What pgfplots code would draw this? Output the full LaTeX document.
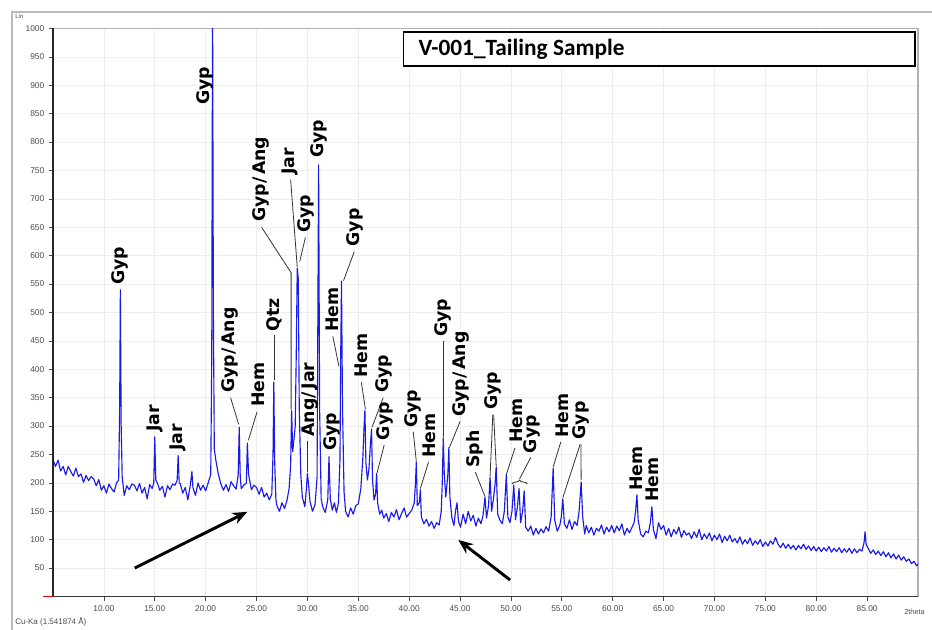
\documentclass[border=0pt]{standalone}
\usepackage{pgfplots}
\pgfplotsset{compat=1.18}
\usepackage{fontspec}
\setmainfont{Liberation Sans}
\newfontfamily\carlito{Carlito}
\newfontfamily\dejavu{DejaVu Sans}
\usetikzlibrary{arrows.meta,decorations.pathreplacing}
\definecolor{xrdblue}{RGB}{25,25,235}
\begin{document}
\begin{tikzpicture}[x=1pt,y=1pt,
  lbl/.style={rotate=90, anchor=west, inner sep=0pt, font=\dejavu\bfseries\fontsize{13}{14}\selectfont},
  ldr/.style={black!80, line width=0.6pt}]
\path[use as bounding box] (-39.75,-24.375) rectangle (659.25,447.375);
\fill[white] (-39.75,-24.375) rectangle (659.25,447.375);
\draw[gray!55, line width=1.1pt] (-30.75,-30) -- (-30.75,438.4) -- (670,438.4);
\begin{axis}[
  at={(0,0)}, anchor=south west, scale only axis,
  width=648.75pt, height=426pt,
  xmin=5, xmax=90, ymin=0, ymax=1000,
  clip mode=individual,
  axis line style={gray!60, line width=0.8pt},
  xtick={10,15,...,85}, ytick={50,100,...,1000},
  xtick pos=lower, ytick pos=left, tick align=outside,
  major tick length=3pt,
  tick style={gray!60!black, line width=0.5pt},
  grid=major, major grid style={gray!14, line width=0.5pt},
  scaled ticks=false,
  /pgf/number format/assume math mode=true,
  xticklabel style={/pgf/number format/.cd, fixed, fixed zerofill, precision=2, /tikz/.cd, font=\fontsize{6.3}{7}\selectfont, text=gray!60!black},
  yticklabel style={/pgf/number format/.cd, fixed, precision=0, 1000 sep={}, /tikz/.cd, font=\fontsize{6.3}{7}\selectfont, text=gray!60!black},
]
\addplot[xrdblue, line width=0.85pt, line join=round, mark=none] table {
5.00 241
5.25 229
5.50 240
5.75 221
6.00 229
6.25 214
6.50 229
6.75 220
7.00 212
7.25 226
7.50 211
7.75 216
8.00 201
8.25 213
8.50 204
8.75 211
9.00 207
9.25 195
9.50 206
9.75 187
10.00 195
10.25 182
10.50 198
10.75 190
11.00 184
11.25 200
11.45 205
11.55 330
11.62 540
11.70 300
11.80 210
12.00 178
12.25 195
12.50 188
12.75 198
13.00 196
13.25 186
13.50 199
13.75 182
14.00 192
14.25 172
14.50 197
14.75 190
14.90 200
15.00 281
15.10 205
15.25 200
15.50 187
15.75 194
16.00 175
16.25 195
16.50 188
16.75 198
17.00 196
17.20 205
17.30 248
17.40 200
17.50 199
17.75 182
18.00 192
18.25 170
18.50 197
18.65 220
18.75 192
19.00 178
19.25 200
19.50 187
19.75 196
20.00 186
20.25 200
20.50 215
20.60 420
20.68 1050
20.76 500
20.85 260
21.00 240
21.25 215
21.50 198
21.75 187
22.00 197
22.25 185
22.50 202
22.75 195
23.00 189
23.20 215
23.30 298
23.40 210
23.50 190
23.75 196
24.00 200
24.10 270
24.22 215
24.50 188
24.75 196
25.00 192
25.25 180
25.50 192
25.75 175
26.00 182
26.25 170
26.50 180
26.62 250
26.70 378
26.78 240
26.90 172
27.00 160
27.25 150
27.50 165
27.75 155
28.00 170
28.20 190
28.35 230
28.45 328
28.55 255
28.70 280
28.80 300
28.90 420
29.00 578
29.10 560
29.20 330
29.35 215
29.50 175
29.75 158
29.90 190
30.00 217
30.10 200
30.25 168
30.50 150
30.75 162
30.95 210
31.10 760
31.20 330
31.35 172
31.50 158
31.75 148
32.00 170
32.12 246
32.25 172
32.45 152
32.65 165
32.85 148
33.05 165
33.20 240
33.27 420
33.35 555
33.45 330
33.60 185
33.75 150
34.00 140
34.25 156
34.50 145
34.75 160
35.00 163
35.25 190
35.45 245
35.57 300
35.65 328
35.75 235
35.90 205
36.05 225
36.20 270
36.30 295
36.40 205
36.55 170
36.70 180
36.80 217
36.90 165
37.10 145
37.30 152
37.50 138
37.75 146
38.00 132
38.25 148
38.50 140
38.75 153
39.00 135
39.25 146
39.50 156
39.75 140
40.00 146
40.25 152
40.50 165
40.62 200
40.70 237
40.80 160
41.00 165
41.10 188
41.20 140
41.45 128
41.70 136
41.95 124
42.20 132
42.45 120
42.70 130
42.95 126
43.15 150
43.25 200
43.35 279
43.45 215
43.60 175
43.80 215
43.90 262
44.00 175
44.20 138
44.40 125
44.55 150
44.70 165
44.85 132
45.05 122
45.30 145
45.55 128
45.80 150
46.05 133
46.30 143
46.55 124
46.80 138
47.05 128
47.25 142
47.45 175
47.60 138
47.80 160
47.95 210
48.10 150
48.30 175
48.45 200
48.55 228
48.70 145
48.90 135
49.15 128
49.35 150
49.55 215
49.70 140
49.90 130
50.10 150
50.28 196
50.45 135
50.65 160
50.80 190
50.95 130
51.15 150
51.30 186
51.45 122
51.70 115
51.95 124
52.20 108
52.45 120
52.70 110
52.95 119
53.20 112
53.45 123
53.70 115
53.95 140
54.15 226
54.30 135
54.55 115
54.80 125
54.95 140
55.10 172
55.25 128
55.50 120
55.75 135
56.00 118
56.25 132
56.50 125
56.70 150
56.90 202
57.05 140
57.25 110
57.40 125
57.65 112
57.90 122
58.15 108
58.40 120
58.65 115
58.90 126
59.15 110
59.40 122
59.65 114
59.90 125
60.15 112
60.40 124
60.65 116
60.90 128
61.15 108
61.40 120
61.65 112
61.90 122
62.10 130
62.25 150
62.38 179
62.50 135
62.75 110
63.00 105
63.25 115
63.50 112
63.70 130
63.85 158
64.00 118
64.25 102
64.50 130
64.75 118
65.00 125
65.25 108
65.50 120
65.75 105
66.00 118
66.25 110
66.50 122
66.75 104
67.00 116
67.25 108
67.50 112
67.75 102
68.00 114
68.25 104
68.50 118
68.75 100
69.00 110
69.25 102
69.50 112
69.75 98
70.00 108
70.25 100
70.50 110
70.75 95
71.00 106
71.25 98
71.50 108
71.75 96
72.00 102
72.25 94
72.50 105
72.75 92
73.00 100
73.25 93
73.50 103
73.75 90
74.00 98
74.25 92
74.50 100
74.75 88
75.00 96
75.25 89
75.50 98
75.75 92
76.00 104
76.25 92
76.50 86
76.75 94
77.00 85
77.25 92
77.50 84
77.75 90
78.00 82
78.25 90
78.50 84
78.75 92
79.00 83
79.25 89
79.50 81
79.75 88
80.00 80
80.25 87
80.50 79
80.75 86
81.00 80
81.25 88
81.50 78
81.75 85
82.00 79
82.25 86
82.50 77
82.75 84
83.00 78
83.25 85
83.50 76
83.75 84
84.00 77
84.25 83
84.50 80
84.70 95
84.80 114
84.90 92
85.10 85
85.35 76
85.60 82
85.85 74
86.10 80
86.35 72
86.60 79
86.85 70
87.10 77
87.35 68
87.60 75
87.85 66
88.10 73
88.35 64
88.60 70
88.85 62
89.10 66
89.35 58
89.60 62
89.85 54
90.00 57
};
% darker axis spines
\draw[gray!30!black, line width=0.8pt] (rel axis cs:0,0) -- (rel axis cs:0,1);
\draw[gray!45!black, line width=0.8pt] (rel axis cs:0,0) -- (rel axis cs:1,0);
% title box
\draw[black, line width=1.1pt, fill=white] (axis cs:39.45,934) rectangle (axis cs:89.7,994);
\node[anchor=west, inner sep=0pt, font=\carlito\bfseries\fontsize{17.5}{19}\selectfont] at (axis cs:40.9,964) {V-001\_Tailing Sample};
% peak labels
\node[lbl] at (axis cs:11.62,548) {Gyp};
\node[lbl] at (axis cs:15.0,290) {Jar};
\node[lbl] at (axis cs:17.3,256) {Jar};
\node[lbl] at (axis cs:19.9,865) {Gyp};
\node[lbl] at (axis cs:22.35,358) {Gyp/\,Ang};
\draw[ldr] (axis cs:22.45,350) -- (axis cs:23.25,303);
\node[lbl] at (axis cs:25.15,334) {Hem};
\draw[ldr] (axis cs:25.05,325) -- (axis cs:24.2,275);
\node[lbl] at (axis cs:26.75,466) {Qtz};
\draw[ldr] (axis cs:26.75,460) -- (axis cs:26.75,382);
\node[lbl] at (axis cs:25.4,659) {Gyp/\,Ang};
\draw[ldr] (axis cs:25.5,650) -- (axis cs:28.4,570) -- (axis cs:28.4,330);
\node[lbl] at (axis cs:28.3,742) {Jar};
\draw[ldr] (axis cs:28.35,734) -- (axis cs:29.0,580);
\node[lbl] at (axis cs:29.85,640) {Gyp};
\draw[ldr] (axis cs:29.8,632) -- (axis cs:29.25,590);
\node[lbl] at (axis cs:31.1,772) {Gyp};
\node[lbl] at (axis cs:34.65,616) {Gyp};
\draw[ldr] (axis cs:34.6,607) -- (axis cs:33.55,556);
\node[lbl] at (axis cs:32.4,466) {Hem};
\draw[ldr] (axis cs:32.5,458) -- (axis cs:33.1,405);
\node[lbl] at (axis cs:30.3,281) {Ang/\,Jar};
\draw[ldr] (axis cs:30.0,273) -- (axis cs:30.0,220);
\node[lbl] at (axis cs:32.4,256) {Gyp};
\node[lbl] at (axis cs:35.25,385) {Hem};
\draw[ldr] (axis cs:35.3,377) -- (axis cs:35.7,330);
\node[lbl] at (axis cs:37.5,358) {Gyp};
\draw[ldr] (axis cs:37.45,350) -- (axis cs:36.35,298);
\node[lbl] at (axis cs:37.6,275) {Gyp};
\draw[ldr] (axis cs:37.55,267) -- (axis cs:36.85,218);
\node[lbl] at (axis cs:40.35,297) {Gyp};
\draw[ldr] (axis cs:40.4,290) -- (axis cs:40.7,238);
\node[lbl] at (axis cs:42.0,244) {Hem};
\draw[ldr] (axis cs:41.9,237) -- (axis cs:41.1,190);
\node[lbl] at (axis cs:43.35,457) {Gyp};
\draw[ldr] (axis cs:43.35,450) -- (axis cs:43.35,281);
\node[lbl] at (axis cs:45.1,316) {Gyp/\,Ang};
\draw[ldr] (axis cs:45.0,308) -- (axis cs:43.95,262);
\node[lbl] at (axis cs:46.45,226) {Sph};
\draw[ldr] (axis cs:46.5,219) -- (axis cs:47.45,176);
\node[lbl] at (axis cs:48.25,328) {Gyp};
\draw[ldr] (axis cs:48.22,320) -- (axis cs:47.95,212);
\draw[ldr] (axis cs:48.3,320) -- (axis cs:48.55,230);
\node[lbl] at (axis cs:50.5,270) {Hem};
\draw[ldr] (axis cs:50.4,262) -- (axis cs:49.55,215);
\node[lbl] at (axis cs:52.05,252) {Gyp};
\draw[ldr] (axis cs:51.95,245) -- (axis cs:50.85,207);
\draw[ldr, decorate, decoration={brace, amplitude=3pt}] (axis cs:50.1,198) -- (axis cs:51.6,198);
\node[lbl] at (axis cs:55.0,279) {Hem};
\draw[ldr] (axis cs:54.9,272) -- (axis cs:54.15,228);
\node[lbl] at (axis cs:56.85,276) {Gyp};
\draw[ldr] (axis cs:56.8,268) -- (axis cs:55.1,174);
\draw[ldr] (axis cs:56.88,268) -- (axis cs:56.9,205);
\node[lbl] at (axis cs:62.35,186) {Hem};
\node[lbl] at (axis cs:63.9,166) {Hem};
% arrows
\draw[black, line width=2.2pt, -{Stealth[length=11pt, width=9pt]}] (axis cs:13.03,50) -- (axis cs:24.09,149);
\draw[black, line width=2.2pt, -{Stealth[length=11pt, width=9pt]}] (axis cs:49.92,29) -- (axis cs:44.83,99.5);
\end{axis}
\draw[red, line width=1.3pt] (-7.5,0) -- (1,0);
\node[anchor=west, inner sep=0pt, font=\fontsize{4.5}{5}\selectfont, text=gray!60!black] at (-28.5,435.2) {Lin};
\node[anchor=west, inner sep=0pt, font=\fontsize{6}{7}\selectfont, text=gray!60!black] at (-28.5,-19.1) {Cu-Ka (1.541874 Å)};
\node[anchor=east, inner sep=0pt, font=\fontsize{5.5}{6}\selectfont, text=gray!60!black] at (654,-11.6) {2theta};
\end{tikzpicture}
\end{document}
